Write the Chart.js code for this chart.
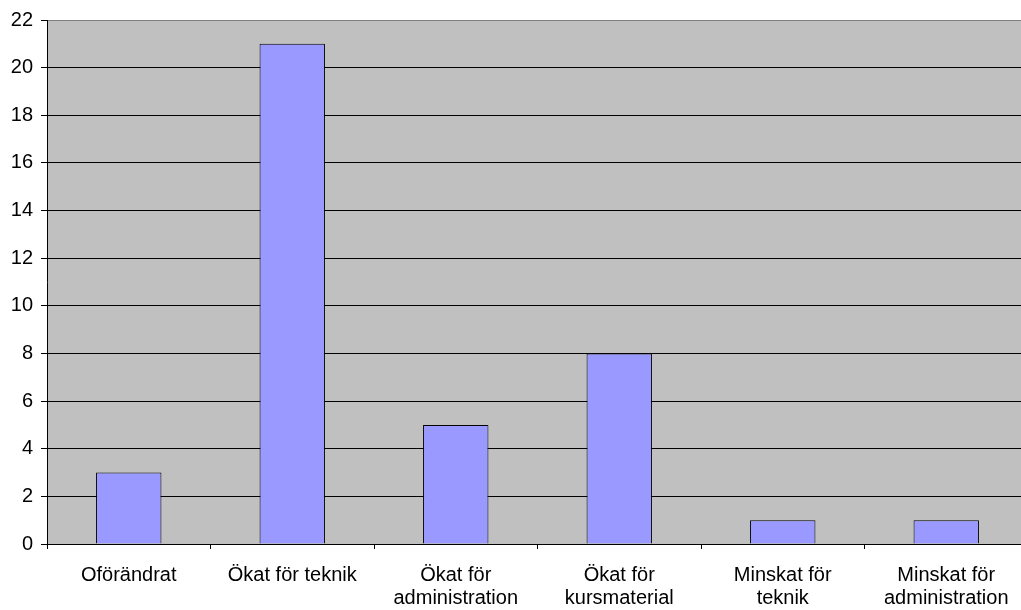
<!DOCTYPE html>
<html>
<head>
<meta charset="utf-8">
<script src="https://cdn.jsdelivr.net/npm/chart.js@4"></script>
<style>
  html, body { margin: 0; padding: 0; background: #fff; overflow: hidden; }
  #wrap { width: 1028px; height: 610px; }
</style>
</head>
<body>
<div id="wrap"><canvas id="barChart" width="1028" height="610"></canvas></div>
<script>
const categories = [
    'Oförändrat',
    'Ökat för teknik',
    ['Ökat för', 'administration'],
    ['Ökat för', 'kursmaterial'],
    ['Minskat för', 'teknik'],
    ['Minskat för', 'administration']
];
const counts = [3, 21, 5, 8, 1, 1];
const yMax = 22;
const yStep = 2;

// gray plot background
const plotBackground = {
    id: 'plotBackground',
    beforeDraw(chart) {
        const { ctx, chartArea } = chart;
        ctx.save();
        ctx.fillStyle = '#c0c0c0';
        ctx.fillRect(chartArea.left, chartArea.top, chartArea.right - chartArea.left, chartArea.bottom - chartArea.top);
        ctx.restore();
    }
};

const labelFont = { family: 'Liberation Sans, Arial, sans-serif', size: 20, lineHeight: 1.15 };

const ctx = document.getElementById('barChart').getContext('2d');
new Chart(ctx, {
    type: 'bar',
    data: {
        labels: categories,
        datasets: [{
            data: counts,
            backgroundColor: '#9999ff',
            borderColor: '#000000',
            borderWidth: 1,
            barPercentage: 0.4,
            categoryPercentage: 1.0
        }]
    },
    options: {
        responsive: false,
        animation: false,
        layout: { padding: { top: 20, right: 0, left: 0, bottom: 0 } },
        plugins: {
            legend: { display: false },
            tooltip: { enabled: false }
        },
        scales: {
            x: {
                offset: true,
                grid: {
                    offset: true,
                    drawOnChartArea: false,
                    drawTicks: true,
                    tickLength: 5,
                    color: '#000000'
                },
                border: { color: '#000000', width: 1 },
                ticks: {
                    color: '#000000',
                    font: labelFont,
                    padding: 15,
                    maxRotation: 0,
                    autoSkip: false
                },
                afterFit: s => { s.height = 66; }
            },
            y: {
                min: 0,
                max: yMax,
                ticks: {
                    stepSize: yStep,
                    color: '#000000',
                    font: labelFont,
                    padding: 8
                },
                grid: {
                    color: c => (c.tick && c.tick.value === yMax) ? '#808080' : '#000000',
                    tickColor: '#000000',
                    tickLength: 6,
                    lineWidth: 1
                },
                border: { color: '#000000', width: 1 },
                afterFit: s => { s.width = 47; }
            }
        }
    },
    plugins: [plotBackground]
});
</script>
</body>
</html>
